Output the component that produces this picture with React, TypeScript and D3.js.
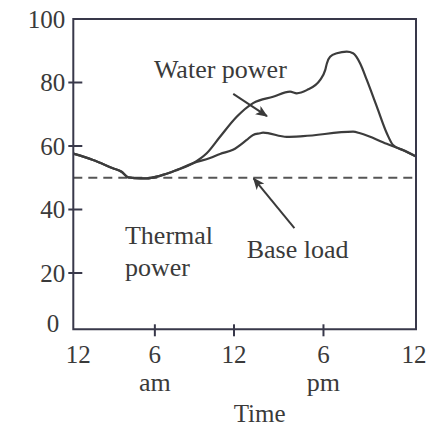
import React from "react";
import * as d3 from "d3";

// ---- data ----
const hourTicks = [0, 6, 12, 18, 24];
const hourLabels = ["12", "6", "12", "6", "12"];
const periodHours = [6, 18];
const periodLabels = ["am", "pm"];
const valueTicks = [0, 20, 40, 60, 80, 100];
const baseLoad = 50;

// total demand (upper curve)
const loadHours = [0, 1.45, 2.91, 3.55, 4.04, 4.53, 5.39, 6.38, 7.65, 8.91, 9.93, 10.94, 12.18, 13.28, 14.62, 15.76, 16.21, 16.88, 17.78, 18.11, 18.22, 18.43, 18.87, 19.51, 19.92, 20.38, 20.81, 21.46, 22.1, 22.51, 23.16, 24];
const loadValues = [57.6, 55.6, 53.0, 51.9, 50.1, 49.9, 49.8, 50.6, 52.4, 54.6, 57.7, 62.9, 69.2, 73.5, 75.5, 77.1, 76.6, 77.6, 80.8, 83.9, 86.0, 88.1, 89.2, 89.7, 89.2, 86.0, 80.8, 72.4, 64.1, 60.3, 58.7, 56.7];

// thermal power limit (lower curve)
const thermalHours = [0, 1.45, 2.91, 3.55, 4.04, 4.53, 5.39, 6.38, 7.65, 8.91, 10.18, 10.94, 11.92, 12.85, 13.28, 13.75, 13.95, 15.54, 16.64, 19.92, 20.38, 22.1, 23.16, 24];
const thermalValues = [57.6, 55.6, 53.0, 51.9, 50.1, 49.9, 49.8, 50.6, 52.4, 54.6, 56.2, 57.5, 58.8, 61.9, 63.5, 64.0, 64.2, 62.9, 63.1, 64.5, 64.0, 60.7, 58.7, 56.7];

// annotation texts (anchored in data units: hour, value)
const labelTexts = ["Water power", "Thermal", "power", "Base load"];
const labelHours = [5.93, 3.8, 3.8, 12.85];
const labelValues = [81.4, 29.0, 19.0, 24.6];
const arrowFromHours = [11.94, 16.05];
const arrowFromValues = [76.4, 34.1];
const arrowToHours = [14.21, 13.31];
const arrowToValues = [69.4, 49.8];

const W = 436;
const H = 430;
const left = 73.3;
const right = 416;
const top = 19;
const bottom = 329.3;

export default function App() {
  const pw = right - left;
  const x = d3
    .scaleLinear()
    .domain(hourTicks)
    .range([0, 0.238, 0.469, 0.73, 1].map((f) => left + f * pw));
  const y = d3
    .scaleLinear()
    .domain([0, 20, 100])
    .range([bottom, 273, top]);

  const line = d3
    .line<[number, number]>()
    .x((d) => x(d[0]))
    .y((d) => y(d[1]))
    .curve(d3.curveMonotoneX);

  const loadPts = loadHours.map((h, i) => [h, loadValues[i]] as [number, number]);
  const thermalPts = thermalHours.map((h, i) => [h, thermalValues[i]] as [number, number]);

  const font = "'Liberation Serif', 'Times New Roman', serif";
  const textColor = "#3a3a3a";
  const frameColor = "#38384a";
  const curveColor = "#3c3c3c";
  const tickFont = 25;
  const labelFont = 26;

  return (
    <svg
      width={W}
      height={H}
      style={{ position: "absolute", left: 0, top: 0, background: "#fff" }}
      fontFamily={font}
    >
      <defs>
        <marker
          id="arrow"
          viewBox="0 0 12 10"
          refX="11"
          refY="5"
          markerWidth="12"
          markerHeight="10"
          markerUnits="userSpaceOnUse"
          orient="auto"
        >
          <path d="M0,0 L12,5 L0,10 L3,5 z" fill="#3a3a3a" />
        </marker>
      </defs>

      {/* base load dashed */}
      <line
        x1={left}
        x2={right}
        y1={y(baseLoad)}
        y2={y(baseLoad)}
        stroke="#555"
        strokeWidth={2}
        strokeDasharray="9 6"
      />

      {/* curves */}
      <path d={line(thermalPts) || ""} fill="none" stroke={curveColor} strokeWidth={2.2} strokeLinejoin="round" />
      <path d={line(loadPts) || ""} fill="none" stroke={curveColor} strokeWidth={2.2} strokeLinejoin="round" />

      {/* frame */}
      <path
        d={`M${left},${top} L${right},${top} L${right},${bottom} L${left},${bottom} Z`}
        fill="none"
        stroke={frameColor}
        strokeWidth={2}
      />

      {/* y ticks */}
      {valueTicks.map((v) =>
        v > 0 && v < 100 ? (
          <line key={"yt" + v} x1={left - 5} x2={left + 9} y1={y(v)} y2={y(v)} stroke={frameColor} strokeWidth={2} />
        ) : null
      )}
      {valueTicks.map((v) => (
        <text
          key={"yl" + v}
          x={v === 0 ? left - 14 : left - 8}
          y={v === 0 ? y(v) - 6 : y(v)}
          dy="0.35em"
          textAnchor="end"
          fontSize={tickFont}
          fill={textColor}
        >
          {v}
        </text>
      ))}

      {/* x ticks */}
      {hourTicks.map((h) =>
        h > 0 && h < 24 ? (
          <line key={"xt" + h} x1={x(h)} x2={x(h)} y1={bottom - 5} y2={bottom + 7} stroke={frameColor} strokeWidth={2} />
        ) : null
      )}
      {hourTicks.map((h, i) => (
        <text
          key={"xl" + h}
          x={x(h) + (h === 0 ? 5 : h === 24 ? -2 : 0)}
          y={363}
          textAnchor="middle"
          fontSize={tickFont}
          fill={textColor}
        >
          {hourLabels[i]}
        </text>
      ))}
      {periodHours.map((h, i) => (
        <text key={"pl" + h} x={x(h)} y={391} textAnchor="middle" fontSize={labelFont} fill={textColor}>
          {periodLabels[i]}
        </text>
      ))}
      <text x={(left + right) / 2 + 15} y={422} textAnchor="middle" fontSize={25} fill={textColor}>
        Time
      </text>

      {/* annotations */}
      {labelTexts.map((t, i) => (
        <text key={"lab" + i} x={x(labelHours[i])} y={y(labelValues[i])} fontSize={labelFont} fill={textColor}>
          {t}
        </text>
      ))}
      {arrowFromHours.map((h, i) => (
        <line
          key={"ar" + i}
          x1={x(h)}
          y1={y(arrowFromValues[i])}
          x2={x(arrowToHours[i])}
          y2={y(arrowToValues[i])}
          stroke="#3a3a3a"
          strokeWidth={2}
          markerEnd="url(#arrow)"
        />
      ))}
    </svg>
  );
}
